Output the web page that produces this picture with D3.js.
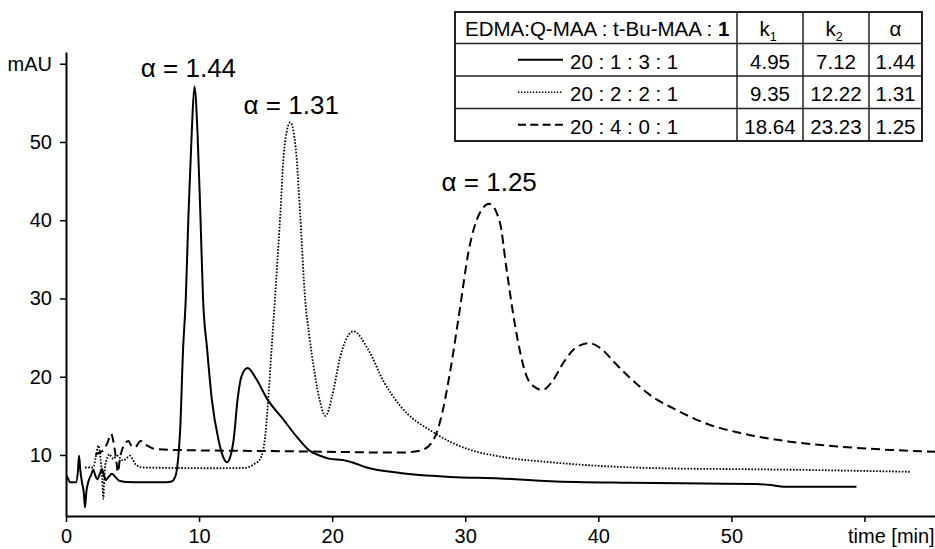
<!DOCTYPE html>
<html><head><meta charset="utf-8">
<script src="https://cdn.jsdelivr.net/npm/d3@7"></script>
<style>
body{margin:0;background:#fff}
svg{display:block}
text{font-family:"Liberation Sans",Arial,Helvetica,sans-serif;fill:#000}
</style>
</head><body>
<svg id="c" width="935" height="549"></svg>
<script>
// ---- data ----
const ratios = ["20 : 1 : 3 : 1", "20 : 2 : 2 : 1", "20 : 4 : 0 : 1"];
const k1 = ["4.95", "9.35", "18.64"];
const k2 = ["7.12", "12.22", "23.23"];
const alphaVals = ["1.44", "1.31", "1.25"];
const xTickLabels = [0, 10, 20, 30, 40, 50];
const yTickLabels = [10, 20, 30, 40, 50];

// solid: 20:1:3:1  [time min, mAU]
const solid = [
 [0,7.4],[0.15,7.0],[0.3,6.5],[0.75,6.5],[0.9,8.0],[0.98,9.9],[1.08,8.0],[1.2,6.5],[1.33,5.3],[1.43,3.3],
 [1.53,5.3],[1.7,6.7],[1.9,7.5],[2.05,8.1],[2.2,7.4],[2.35,6.9],[2.55,7.6],[2.7,8.2],[2.85,7.4],[3.0,6.8],
 [3.2,7.2],[3.45,7.6],[3.7,7.2],[4.0,6.7],[4.5,6.55],[6,6.5],[7.5,6.5],[7.95,6.6],[8.15,7.0],[8.3,7.8],
 [8.45,10],[8.57,12.9],[8.8,23.6],[9.0,29.9],[9.2,40.6],[9.45,51.3],[9.65,57.1],[9.88,51.3],[10.1,40.6],
 [10.3,29.9],[10.6,23.6],[10.95,17.2],[11.45,12.0],[11.8,9.8],[12.1,9.07],[12.35,9.8],[12.6,12.0],
 [12.9,17.2],[13.2,20.1],[13.65,21.1],[14.3,19.7],[15.1,17.2],[16.3,14.6],[17.3,12.4],[18.3,10.55],
 [19.1,9.9],[19.85,9.5],[20.8,9.36],[21.6,9.0],[22.6,8.4],[25.1,7.7],[28.9,7.2],[32.6,7.0],[36.4,6.65],
 [42.4,6.45],[48,6.35],[51.9,6.3],[53.2,6.1],[53.9,5.95],[59.4,5.95]
];
// dotted: 20:2:2:1
const dotted = [
 [1.43,8.4],[2.05,8.4],[2.25,9.8],[2.43,11.2],[2.6,9.5],[2.72,7.0],[2.8,4.4],[2.88,7.0],[2.95,8.7],
 [3.1,9.6],[3.26,10.1],[3.4,9.8],[3.56,9.5],[3.75,9.8],[3.93,9.9],[4.1,9.5],[4.3,9.3],[4.55,9.6],
 [4.8,9.9],[5.0,9.5],[5.2,8.85],[5.45,8.55],[5.7,8.4],[8,8.35],[11,8.3],[13.4,8.35],[13.8,8.5],
 [14.2,8.9],[14.6,9.5],[15.0,12.9],[15.2,17.2],[15.45,23.6],[15.7,29.9],[16.1,40.6],[16.4,49.1],
 [16.85,52.5],[17.27,49.1],[17.6,40.6],[17.97,29.9],[18.3,25],[18.6,21.4],[19.0,17.5],[19.5,15.0],
 [20.0,17.5],[20.6,22.5],[21.6,25.8],[22.7,23.5],[23.9,19.3],[25.1,16.3],[27.6,12.9],[30.1,10.8],
 [32.6,9.8],[36.4,9.07],[40.1,8.6],[44.7,8.3],[50,8.2],[55,8.1],[63.4,7.85]
];
// dashed: 20:4:0:1
const dashed = [
 [2.2,10.0],[2.5,10.3],[2.8,10.6],[3.1,11.5],[3.4,12.7],[3.55,11.8],[3.65,10.8],[3.8,9.0],[3.9,7.8],
 [4.05,9.5],[4.2,10.6],[4.4,11.4],[4.7,11.8],[4.9,11.2],[5.2,11.0],[5.6,11.8],[6.1,11.2],[6.6,10.8],
 [8,10.65],[12,10.55],[18,10.45],[25.1,10.3],[26.6,10.55],[27.5,11.6],[28.1,14.2],[28.9,21.0],
 [29.6,28.7],[30.25,36.0],[31.0,40.6],[31.8,42.1],[32.6,39.75],[33.1,33.8],[33.75,26.5],[34.6,20.1],
 [35.2,18.7],[35.8,18.3],[36.5,19.3],[37.4,21.85],[38.3,23.7],[39.3,24.3],[40.2,23.6],[41.2,21.85],
 [42.6,19.5],[44.1,17.4],[45.7,15.9],[48.2,13.96],[50.7,12.8],[54.4,11.7],[58.2,11.06],[62.0,10.64],
 [65.3,10.4]
];

// ---- drawing ----
const svg = d3.select("#c");
const x = d3.scaleLinear().domain([0, 65.3]).range([66, 935]);
const y = d3.scaleLinear().domain([2.2, 61.5]).range([516, 52]);
const FS = 20;

// x axis
const gx = svg.append("g").attr("transform", `translate(0,${y.range()[0]})`);
gx.call(d3.axisBottom(x).tickValues(d3.range(0, 66, 2)).tickSize(4).tickSizeOuter(0).tickFormat(""));
gx.call(d3.axisBottom(x).tickValues(xTickLabels.concat([60])).tickSize(6).tickSizeOuter(0).tickPadding(7)
  .tickFormat(d => d === 60 ? "" : d));
gx.selectAll(".domain").attr("stroke", "#000").attr("stroke-width", 2);
gx.selectAll(".tick line").attr("stroke", "#000").attr("stroke-width", 1.5);
gx.selectAll("text").attr("font-size", FS).attr("font-family", null);
gx.attr("font-family", null);

// y axis
const gy = svg.append("g").attr("transform", `translate(${x(0)},0)`);
gy.call(d3.axisLeft(y).tickValues(d3.range(4, 61, 2)).tickSize(4).tickSizeOuter(0).tickFormat(""));
gy.call(d3.axisLeft(y).tickValues(yTickLabels.concat([60])).tickSize(6).tickSizeOuter(0).tickPadding(8)
  .tickFormat(d => d === 60 ? "mAU" : d));
gy.selectAll(".domain").attr("stroke", "#000").attr("stroke-width", 2);
gy.selectAll(".tick line").attr("stroke", "#000").attr("stroke-width", 1.5);
gy.selectAll("text").attr("font-size", FS).attr("font-family", null);
gy.attr("font-family", null);

svg.append("text").attr("x", 848).attr("y", 543).attr("font-size", 20).text("time [min]");

// curves
const line = d3.line().x(d => x(d[0])).y(d => y(d[1])).curve(d3.curveMonotoneX);
const styles = [
  {data: solid, dash: null, w: 2},
  {data: dotted, dash: "1.6,1.6", w: 1.8},
  {data: dashed, dash: "9,5", w: 2}
];
svg.append("clipPath").attr("id", "clip").append("rect")
  .attr("x", x(0) + 1).attr("y", 0).attr("width", 935).attr("height", y(2.2) - 1);
styles.forEach(s => {
  svg.append("path").datum(s.data).attr("clip-path", "url(#clip)")
    .attr("fill", "none").attr("stroke", "#000").attr("stroke-width", s.w)
    .attr("stroke-dasharray", s.dash).attr("d", line);
});

// peak annotations
const annDx = [-6, 1, 0];
const annDy = [-9, -8, -13];
styles.forEach((s, i) => {
  const pk = s.data.reduce((a, b) => b[1] > a[1] ? b : a);
  svg.append("text").attr("x", x(pk[0]) + annDx[i]).attr("y", y(pk[1]) + annDy[i])
    .attr("text-anchor", "middle").attr("font-size", 26)
    .text(`α = ${alphaVals[i]}`);
});

// table
const colX = [455, 737, 803, 869, 922];
const rowY = [12, 43.5, 76, 108.5, 141];
const TFS = 20.5;
const tg = svg.append("g");
tg.append("rect").attr("x", colX[0]).attr("y", rowY[0]).attr("width", colX[4] - colX[0])
  .attr("height", rowY[4] - rowY[0]).attr("fill", "#fff").attr("stroke", "#222").attr("stroke-width", 2);
[1, 2, 3].forEach(i => {
  tg.append("line").attr("x1", colX[0]).attr("x2", colX[4]).attr("y1", rowY[i]).attr("y2", rowY[i])
    .attr("stroke", "#222").attr("stroke-width", 1.5);
  tg.append("line").attr("x1", colX[i]).attr("x2", colX[i]).attr("y1", rowY[0]).attr("y2", rowY[4])
    .attr("stroke", "#222").attr("stroke-width", 1.5);
});
const hdr = tg.append("text").attr("x", 465).attr("y", 36).attr("font-size", TFS);
hdr.append("tspan").text("EDMA:Q-MAA : t-Bu-MAA : ");
hdr.append("tspan").attr("font-weight", "bold").text("1");
const cx = i => (colX[i] + colX[i + 1]) / 2;
[["k", "1"], ["k", "2"]].forEach((k, j) => {
  const t = tg.append("text").attr("x", cx(j + 1) - 2).attr("y", 36).attr("font-size", TFS).attr("text-anchor", "middle");
  t.append("tspan").text(k[0]);
  t.append("tspan").attr("font-size", 12.5).attr("dy", 5).text(k[1]);
});
tg.append("text").attr("x", cx(3)).attr("y", 36).attr("font-size", TFS).attr("text-anchor", "middle").text("α");

ratios.forEach((r, i) => {
  const base = rowY[i + 1] + 25;
  const mid = (rowY[i + 1] + rowY[i + 2]) / 2;
  tg.append("line").attr("x1", 518).attr("x2", 563).attr("y1", mid).attr("y2", mid)
    .attr("stroke", "#000").attr("stroke-width", i === 1 ? 1.5 : styles[i].w)
    .attr("stroke-dasharray", i === 2 ? "8,4.3" : (i === 1 ? "1.4,1.6" : null));
  tg.append("text").attr("x", 570).attr("y", base).attr("font-size", TFS).text(r);
  [k1[i], k2[i], alphaVals[i]].forEach((v, j) => {
    tg.append("text").attr("x", cx(j + 1)).attr("y", base).attr("font-size", TFS)
      .attr("text-anchor", "middle").text(v);
  });
});
</script>
</body></html>
